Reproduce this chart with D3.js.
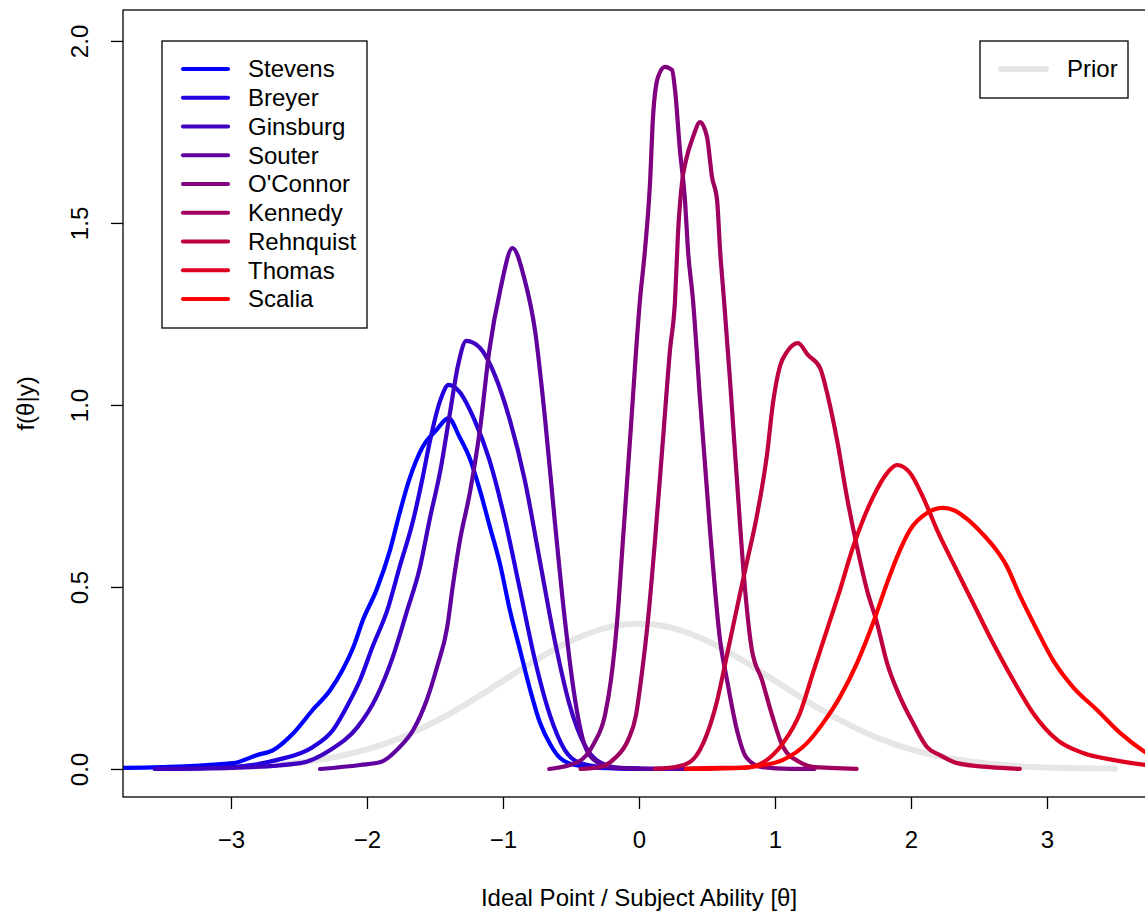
<!DOCTYPE html>
<html>
<head>
<meta charset="utf-8">
<script src="https://cdn.jsdelivr.net/npm/d3@7"></script>
<style>
  body { margin: 0; background: #fff; }
  text { font-family: "Liberation Sans", Arial, Helvetica, sans-serif; fill: #000; }
</style>
</head>
<body>
<div id="chart"></div>
<script>
// justices, liberal -> conservative (colour ramps blue -> red)
var justices = ["Stevens", "Breyer", "Ginsburg", "Souter", "O'Connor", "Kennedy", "Rehnquist", "Thomas", "Scalia"];

// posterior densities, [theta, f(theta|y)]
var stevens = [[-4.0,0.002],[-3.52,0.005],[-2.985,0.016],[-2.81,0.038],[-2.69,0.052],[-2.54,0.099],[-2.40,0.162],[-2.27,0.217],[-2.18,0.272],[-2.10,0.335],[-2.03,0.409],[-1.93,0.492],[-1.83,0.602],[-1.76,0.703],[-1.69,0.794],[-1.59,0.885],[-1.49,0.931],[-1.40,0.964],[-1.32,0.912],[-1.24,0.849],[-1.17,0.766],[-1.10,0.670],[-1.02,0.560],[-0.95,0.437],[-0.875,0.327],[-0.80,0.217],[-0.73,0.129],[-0.65,0.066],[-0.58,0.030],[-0.47,0.011],[-0.29,0.003],[0.0,0.001]];
var breyer = [[-3.56,0.0],[-3.0,0.005],[-2.66,0.025],[-2.40,0.060],[-2.25,0.107],[-2.15,0.170],[-2.05,0.245],[-1.96,0.335],[-1.85,0.437],[-1.76,0.555],[-1.66,0.684],[-1.59,0.802],[-1.54,0.896],[-1.46,1.014],[-1.40,1.055],[-1.32,1.036],[-1.21,0.959],[-1.10,0.849],[-0.985,0.684],[-0.875,0.492],[-0.765,0.299],[-0.655,0.148],[-0.545,0.052],[-0.43,0.016],[-0.21,0.003],[0.0,0.0]];
var ginsburg = [[-3.56,0.0],[-3.0,0.003],[-2.49,0.016],[-2.27,0.052],[-2.07,0.115],[-1.93,0.198],[-1.81,0.308],[-1.71,0.429],[-1.61,0.555],[-1.54,0.684],[-1.46,0.821],[-1.39,0.978],[-1.33,1.110],[-1.27,1.176],[-1.17,1.157],[-1.06,1.082],[-0.95,0.959],[-0.84,0.794],[-0.73,0.574],[-0.62,0.354],[-0.51,0.176],[-0.40,0.066],[-0.29,0.019],[-0.14,0.003],[0.15,0.0]];
var souter = [[-2.345,0.0],[-2.05,0.011],[-1.90,0.019],[-1.76,0.060],[-1.66,0.107],[-1.56,0.190],[-1.485,0.280],[-1.41,0.390],[-1.37,0.500],[-1.32,0.621],[-1.24,0.766],[-1.17,0.931],[-1.10,1.151],[-1.02,1.316],[-0.93,1.431],[-0.84,1.343],[-0.765,1.206],[-0.69,0.959],[-0.62,0.684],[-0.545,0.409],[-0.47,0.190],[-0.40,0.066],[-0.31,0.019],[-0.18,0.003],[0.15,0.0],[0.52,0.0]];
var oconnor = [[-0.66,0.0],[-0.45,0.019],[-0.33,0.071],[-0.25,0.148],[-0.206,0.245],[-0.16,0.409],[-0.118,0.629],[-0.066,0.904],[0.007,1.288],[0.044,1.426],[0.081,1.610],[0.103,1.791],[0.140,1.901],[0.191,1.929],[0.243,1.920],[0.265,1.865],[0.301,1.700],[0.338,1.563],[0.360,1.426],[0.397,1.288],[0.449,1.014],[0.522,0.657],[0.596,0.354],[0.647,0.245],[0.72,0.107],[0.787,0.033],[0.904,0.005],[1.11,0.0],[1.29,0.0]];
var kennedy = [[-0.43,0.0],[-0.29,0.005],[-0.176,0.030],[-0.08,0.080],[-0.022,0.148],[0.015,0.245],[0.066,0.409],[0.118,0.629],[0.176,0.904],[0.228,1.151],[0.265,1.288],[0.287,1.473],[0.316,1.610],[0.346,1.673],[0.397,1.736],[0.449,1.777],[0.50,1.736],[0.537,1.626],[0.574,1.563],[0.596,1.426],[0.625,1.288],[0.669,1.069],[0.72,0.794],[0.78,0.492],[0.83,0.327],[0.904,0.245],[0.978,0.148],[1.06,0.060],[1.18,0.019],[1.29,0.005],[1.40,0.003],[1.60,0.0]];
var rehnquist = [[0.118,0.0],[0.30,0.008],[0.40,0.027],[0.50,0.096],[0.574,0.187],[0.647,0.313],[0.72,0.442],[0.794,0.569],[0.868,0.698],[0.941,0.863],[0.985,1.005],[1.037,1.107],[1.088,1.146],[1.169,1.170],[1.243,1.137],[1.331,1.102],[1.39,1.022],[1.456,0.904],[1.529,0.747],[1.603,0.610],[1.676,0.492],[1.75,0.401],[1.824,0.291],[1.919,0.198],[2.015,0.126],[2.118,0.060],[2.213,0.038],[2.338,0.016],[2.58,0.005],[2.80,0.0]];
var thomas = [[0.345,0.0],[0.596,0.003],[0.743,0.003],[0.816,0.005],[0.941,0.025],[1.059,0.071],[1.184,0.154],[1.279,0.264],[1.382,0.382],[1.478,0.492],[1.574,0.610],[1.647,0.684],[1.721,0.747],[1.824,0.813],[1.897,0.835],[1.993,0.813],[2.088,0.747],[2.191,0.657],[2.309,0.566],[2.456,0.456],[2.603,0.346],[2.75,0.245],[2.897,0.154],[3.074,0.080],[3.265,0.044],[3.485,0.025],[3.72,0.011],[3.90,0.003]];
var scalia = [[0.345,0.0],[0.743,0.003],[0.868,0.008],[1.059,0.025],[1.235,0.071],[1.353,0.126],[1.478,0.198],[1.603,0.291],[1.721,0.401],[1.824,0.511],[1.897,0.582],[1.993,0.657],[2.118,0.703],[2.235,0.717],[2.32,0.710],[2.42,0.684],[2.52,0.648],[2.62,0.605],[2.70,0.560],[2.801,0.476],[2.926,0.382],[3.044,0.299],[3.191,0.225],[3.368,0.162],[3.537,0.099],[3.72,0.047],[3.90,0.011]];

// prior curve
var priorX = [-3.5,-3.25,-3.0,-2.75,-2.5,-2.25,-2.0,-1.75,-1.5,-1.25,-1.0,-0.75,-0.5,-0.25,0,0.25,0.5,0.75,1.0,1.25,1.5,1.75,2.0,2.25,2.5,2.75,3.0,3.25,3.5];
var priorY = [0.001,0.002,0.004,0.009,0.018,0.032,0.054,0.086,0.130,0.183,0.242,0.301,0.352,0.387,0.399,0.387,0.352,0.301,0.242,0.183,0.130,0.086,0.054,0.032,0.018,0.009,0.004,0.002,0.001];

var xTicks = [-3, -2, -1, 0, 1, 2, 3];
var yTicks = [0, 0.5, 1.0, 1.5, 2.0];

var series = [stevens, breyer, ginsburg, souter, oconnor, kennedy, rehnquist, thomas, scalia];

var W = 1145, H = 912;
var plot = {left: 123, top: 10, right: 1155, bottom: 797};
var fontSize = "24px";

var svg = d3.select("#chart").append("svg")
    .attr("width", W)
    .attr("height", H);

var x = d3.scaleLinear().domain([-3.794, 3.794]).range([plot.left, plot.right]);
var y = d3.scaleLinear().domain([-0.077, 2.085]).range([plot.bottom, plot.top]);

var color = function(i) { return d3.interpolateRgb("blue", "red")(i / (justices.length - 1)); };

svg.append("clipPath").attr("id", "clip")
  .append("rect")
    .attr("x", plot.left).attr("y", plot.top)
    .attr("width", plot.right - plot.left)
    .attr("height", plot.bottom - plot.top);

var line = d3.line()
    .x(function(d) { return x(d[0]); })
    .y(function(d) { return y(d[1]); })
    .curve(d3.curveMonotoneX);

var lines = svg.append("g").attr("clip-path", "url(#clip)");

// prior first, underneath
lines.append("path")
    .datum(d3.zip(priorX, priorY))
    .attr("d", line)
    .attr("fill", "none")
    .attr("stroke", "#e6e6e6")
    .attr("stroke-width", 6)
    .attr("stroke-linecap", "round");

lines.selectAll("path.justice")
  .data(series)
  .enter().append("path")
    .attr("class", "justice")
    .attr("d", line)
    .attr("fill", "none")
    .attr("stroke", function(d, i) { return color(i); })
    .attr("stroke-width", 4.2)
    .attr("stroke-linecap", "round")
    .attr("stroke-linejoin", "round");

// box
svg.append("rect")
    .attr("x", plot.left).attr("y", plot.top)
    .attr("width", plot.right - plot.left)
    .attr("height", plot.bottom - plot.top)
    .attr("fill", "none")
    .attr("stroke", "#000")
    .attr("stroke-width", 1.3);

// axes
var xAxis = svg.append("g")
    .attr("transform", "translate(0," + plot.bottom + ")")
    .call(d3.axisBottom(x).tickValues(xTicks).tickSize(12).tickSizeOuter(0));
xAxis.select(".domain").remove();
xAxis.selectAll("line").attr("stroke-width", 1.3);
xAxis.selectAll("text")
    .attr("y", 51).attr("dy", null)
    .style("font-size", fontSize)
    .style("font-family", '"Liberation Sans", Arial, sans-serif');

var yAxis = svg.append("g")
    .attr("transform", "translate(" + plot.left + ",0)")
    .call(d3.axisLeft(y).tickValues(yTicks).tickFormat(d3.format(".1f")).tickSize(12).tickSizeOuter(0));
yAxis.select(".domain").remove();
yAxis.selectAll("line").attr("stroke-width", 1.3);
yAxis.selectAll("text")
    .attr("x", null).attr("dy", null)
    .attr("text-anchor", "middle")
    .attr("transform", "translate(-35,0) rotate(-90)")
    .style("font-size", fontSize)
    .style("font-family", '"Liberation Sans", Arial, sans-serif');

svg.append("text")
    .attr("x", (plot.left + plot.right) / 2)
    .attr("y", 906)
    .attr("text-anchor", "middle")
    .style("font-size", fontSize)
    .text("Ideal Point / Subject Ability [θ]");

svg.append("text")
    .attr("transform", "translate(34," + ((plot.top + plot.bottom) / 2) + ") rotate(-90)")
    .attr("text-anchor", "middle")
    .style("font-size", fontSize)
    .text("f(θ|y)");

// legend: justices
var leg = svg.append("g");
leg.append("rect")
    .attr("x", 162).attr("y", 41)
    .attr("width", 205).attr("height", 287)
    .attr("fill", "#fff").attr("stroke", "#000").attr("stroke-width", 1.3);

var rows = leg.selectAll("g.row")
  .data(justices)
  .enter().append("g")
    .attr("class", "row")
    .attr("transform", function(d, i) { return "translate(0," + (69 + i * 28.75) + ")"; });
rows.append("line")
    .attr("x1", 183).attr("x2", 228)
    .attr("stroke", function(d, i) { return color(i); })
    .attr("stroke-width", 4.2)
    .attr("stroke-linecap", "round");
rows.append("text")
    .attr("x", 248).attr("dy", "0.35em")
    .style("font-size", fontSize)
    .text(function(d) { return d; });

// legend: prior
var leg2 = svg.append("g");
leg2.append("rect")
    .attr("x", 980).attr("y", 41)
    .attr("width", 148).attr("height", 57)
    .attr("fill", "#fff").attr("stroke", "#000").attr("stroke-width", 1.3);
leg2.append("line")
    .attr("x1", 1001).attr("x2", 1046)
    .attr("y1", 69).attr("y2", 69)
    .attr("stroke", "#e6e6e6")
    .attr("stroke-width", 6)
    .attr("stroke-linecap", "round");
leg2.append("text")
    .attr("x", 1067).attr("y", 69).attr("dy", "0.35em")
    .style("font-size", fontSize)
    .text("Prior");
</script>
</body>
</html>
